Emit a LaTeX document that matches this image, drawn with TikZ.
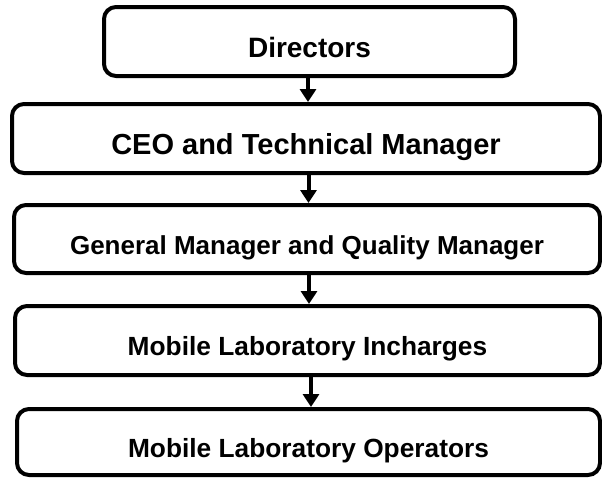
\documentclass[tikz,border=0pt]{standalone}
\usepackage{fontspec}
\setmainfont{Liberation Sans}
\usetikzlibrary{arrows.meta}
\begin{document}
\begin{tikzpicture}[x=1pt,y=-1pt,
  orgbox/.style={draw=black, line width=4pt, rounded corners=12pt, inner sep=0pt,
    font=\bfseries, text height=32pt, text depth=0pt, anchor=center},
  arr/.style={line width=4pt, -{Triangle[width=16pt,length=13pt]}}]
\useasboundingbox (0,0) rectangle (602,479);
\node[orgbox, minimum width=411pt, minimum height=69pt,
  font=\bfseries\fontsize{28}{32}\selectfont] (d) at (309.5,41.5) {Directors};
\node[orgbox, minimum width=588pt, minimum height=69pt,
  font=\bfseries\fontsize{29}{33}\selectfont] (c) at (306,138.5) {CEO and Technical Manager};
\node[orgbox, minimum width=586pt, minimum height=68pt,
  font=\bfseries\fontsize{26}{30}\selectfont, text height=30pt] (g) at (307,239) {General Manager and Quality Manager};
\node[orgbox, minimum width=585pt, minimum height=69pt,
  font=\bfseries\fontsize{26.3}{30}\selectfont, text height=30pt] (i) at (307.5,340.5) {Mobile Laboratory Incharges};
\node[orgbox, minimum width=583pt, minimum height=66pt,
  font=\bfseries\fontsize{26.3}{30}\selectfont, text height=30pt] (o) at (308.5,442) {Mobile Laboratory Operators};
\draw[arr] ([xshift=-1.5pt]d.south) -- ([xshift=-1.5pt]d.south |- c.north);
\draw[arr] ([xshift=2.5pt]c.south) -- ([xshift=2.5pt]c.south |- g.north);
\draw[arr] ([xshift=2pt]g.south) -- ([xshift=2pt]g.south |- i.north);
\draw[arr] ([xshift=3.5pt]i.south) -- ([xshift=3.5pt]i.south |- o.north);
\end{tikzpicture}
\end{document}
